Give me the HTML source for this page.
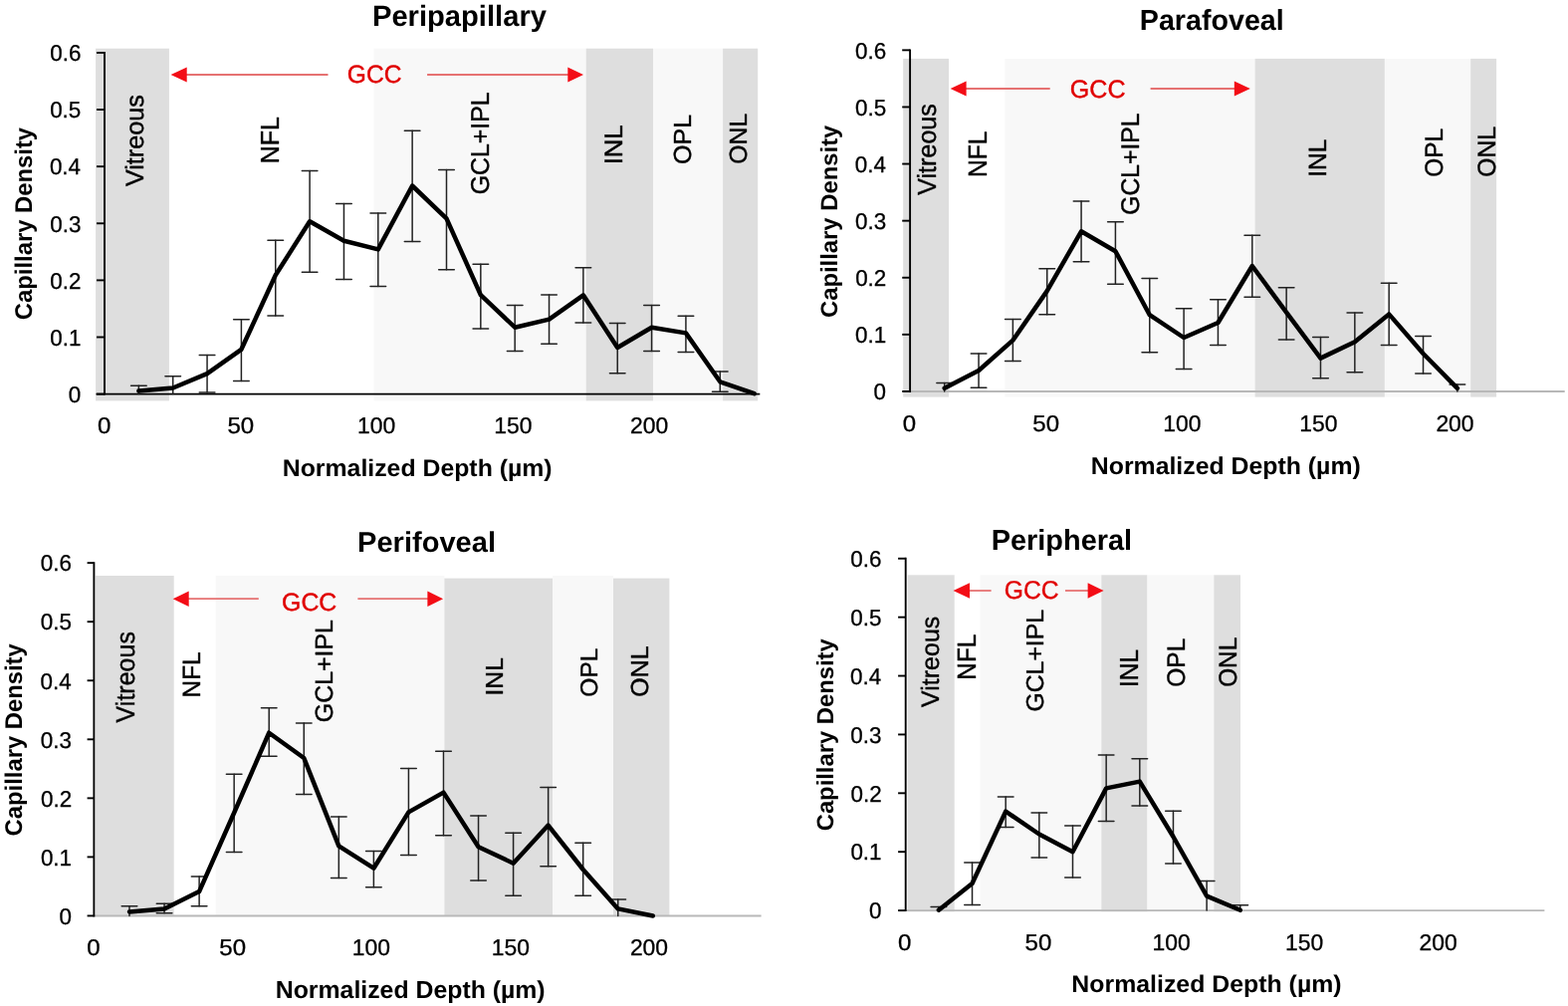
<!DOCTYPE html>
<html><head><meta charset="utf-8"><title>Capillary Density</title>
<style>html,body{margin:0;padding:0;background:#fff;width:1575px;height:1010px;overflow:hidden}
svg{display:block;font-family:"Liberation Sans",Arial,sans-serif;text-rendering:geometricPrecision}</style></head>
<body><svg width="1575" height="1010" viewBox="0 0 1575 1010">
<rect width="1575" height="1010" fill="#fff"/>
<rect x="96.10" y="48.70" width="73.80" height="353.70" fill="#dedede"/>
<rect x="375.40" y="48.70" width="213.30" height="353.70" fill="#f8f8f8"/>
<rect x="588.70" y="48.70" width="67.30" height="353.70" fill="#dedede"/>
<rect x="656.00" y="48.70" width="70.10" height="353.70" fill="#f8f8f8"/>
<rect x="726.10" y="48.70" width="35.10" height="353.70" fill="#dedede"/>
<line x1="96.50" y1="395.60" x2="763.30" y2="395.60" stroke="#000" stroke-width="1.9"/>
<line x1="105.00" y1="51.99" x2="105.00" y2="396.55" stroke="#000" stroke-width="1.9"/>
<line x1="97.00" y1="395.60" x2="105.00" y2="395.60" stroke="#000" stroke-width="1.9"/>
<line x1="97.00" y1="338.49" x2="105.00" y2="338.49" stroke="#000" stroke-width="1.9"/>
<line x1="97.00" y1="281.38" x2="105.00" y2="281.38" stroke="#000" stroke-width="1.9"/>
<line x1="97.00" y1="224.27" x2="105.00" y2="224.27" stroke="#000" stroke-width="1.9"/>
<line x1="97.00" y1="167.16" x2="105.00" y2="167.16" stroke="#000" stroke-width="1.9"/>
<line x1="97.00" y1="110.05" x2="105.00" y2="110.05" stroke="#000" stroke-width="1.9"/>
<line x1="97.00" y1="52.94" x2="105.00" y2="52.94" stroke="#000" stroke-width="1.9"/>
<text x="68.81" y="403.88" font-size="22.88" stroke="#000" stroke-width="0.3" textLength="12.47" lengthAdjust="spacingAndGlyphs">0</text>
<text x="50.32" y="346.77" font-size="22.88" stroke="#000" stroke-width="0.3" textLength="31.17" lengthAdjust="spacingAndGlyphs">0.1</text>
<text x="50.36" y="289.66" font-size="22.88" stroke="#000" stroke-width="0.3" textLength="31.17" lengthAdjust="spacingAndGlyphs">0.2</text>
<text x="50.21" y="232.55" font-size="22.88" stroke="#000" stroke-width="0.3" textLength="31.17" lengthAdjust="spacingAndGlyphs">0.3</text>
<text x="49.89" y="175.44" font-size="22.88" stroke="#000" stroke-width="0.3" textLength="31.17" lengthAdjust="spacingAndGlyphs">0.4</text>
<text x="50.17" y="118.33" font-size="22.88" stroke="#000" stroke-width="0.3" textLength="31.17" lengthAdjust="spacingAndGlyphs">0.5</text>
<text x="50.21" y="61.22" font-size="22.88" stroke="#000" stroke-width="0.3" textLength="31.17" lengthAdjust="spacingAndGlyphs">0.6</text>
<text x="97.92" y="435.18" font-size="22.88" stroke="#000" stroke-width="0.3" textLength="13.36" lengthAdjust="spacingAndGlyphs">0</text>
<text x="228.43" y="435.18" font-size="22.88" stroke="#000" stroke-width="0.3" textLength="26.72" lengthAdjust="spacingAndGlyphs">50</text>
<text x="359.09" y="435.18" font-size="22.88" stroke="#000" stroke-width="0.3" textLength="38.18" lengthAdjust="spacingAndGlyphs">100</text>
<text x="496.19" y="435.18" font-size="22.88" stroke="#000" stroke-width="0.3" textLength="38.18" lengthAdjust="spacingAndGlyphs">150</text>
<text x="632.98" y="435.18" font-size="22.88" stroke="#000" stroke-width="0.3" textLength="38.18" lengthAdjust="spacingAndGlyphs">200</text>
<text x="373.95" y="26.30" font-size="29.36" font-weight="bold" fill="#000" textLength="175.01" lengthAdjust="spacingAndGlyphs">Peripapillary</text>
<text x="283.74" y="477.70" font-size="23.98" font-weight="bold" fill="#000" textLength="270.90" lengthAdjust="spacingAndGlyphs">Normalized Depth (µm)</text>
<text transform="translate(32.00,321.18) rotate(-90)" font-size="24.13" font-weight="bold" fill="#000" textLength="193.31" lengthAdjust="spacingAndGlyphs">Capillary Density</text>
<text transform="translate(144.35,187.11) rotate(-90)" font-size="25.28" fill="#000" stroke="#000" stroke-width="0.4" textLength="91.92" lengthAdjust="spacingAndGlyphs">Vitreous</text>
<text transform="translate(279.70,164.25) rotate(-90)" font-size="26.02" fill="#000" stroke="#000" stroke-width="0.4" textLength="47.28" lengthAdjust="spacingAndGlyphs">NFL</text>
<text transform="translate(490.85,195.35) rotate(-90)" font-size="25.71" fill="#000" stroke="#000" stroke-width="0.4" textLength="103.08" lengthAdjust="spacingAndGlyphs">GCL+IPL</text>
<text transform="translate(624.50,165.37) rotate(-90)" font-size="25.44" fill="#000" stroke="#000" stroke-width="0.4" textLength="40.03" lengthAdjust="spacingAndGlyphs">INL</text>
<text transform="translate(694.36,164.89) rotate(-90)" font-size="24.72" fill="#000" stroke="#000" stroke-width="0.4" textLength="50.12" lengthAdjust="spacingAndGlyphs">OPL</text>
<text transform="translate(750.26,164.67) rotate(-90)" font-size="24.72" fill="#000" stroke="#000" stroke-width="0.4" textLength="50.79" lengthAdjust="spacingAndGlyphs">ONL</text>
<text x="348.86" y="82.95" font-size="25.14" fill="#e00000" textLength="54.57" lengthAdjust="spacingAndGlyphs" stroke="#e00000" stroke-width="0.4">GCC</text>
<line x1="186.70" y1="75.00" x2="329.50" y2="75.00" stroke="#e67272" stroke-width="1.8"/>
<polygon points="171.60,75.00 187.70,67.40 187.70,82.60" fill="#f30d16"/>
<line x1="429.10" y1="75.00" x2="571.30" y2="75.00" stroke="#e67272" stroke-width="1.8"/>
<polygon points="586.00,75.00 570.30,67.40 570.30,82.60" fill="#f30d16"/>
<line x1="139.36" y1="387.20" x2="139.36" y2="395.60" stroke="#222222" stroke-width="1.5" stroke-linecap="round"/>
<line x1="131.56" y1="387.20" x2="147.16" y2="387.20" stroke="#222222" stroke-width="1.5" stroke-linecap="round"/>
<line x1="173.71" y1="377.80" x2="173.71" y2="395.60" stroke="#222222" stroke-width="1.5" stroke-linecap="round"/>
<line x1="165.91" y1="377.80" x2="181.51" y2="377.80" stroke="#222222" stroke-width="1.5" stroke-linecap="round"/>
<line x1="208.06" y1="356.40" x2="208.06" y2="394.00" stroke="#222222" stroke-width="1.5" stroke-linecap="round"/>
<line x1="200.26" y1="356.40" x2="215.86" y2="356.40" stroke="#222222" stroke-width="1.5" stroke-linecap="round"/>
<line x1="200.26" y1="394.00" x2="215.86" y2="394.00" stroke="#222222" stroke-width="1.5" stroke-linecap="round"/>
<line x1="242.40" y1="320.80" x2="242.40" y2="382.40" stroke="#222222" stroke-width="1.5" stroke-linecap="round"/>
<line x1="234.60" y1="320.80" x2="250.20" y2="320.80" stroke="#222222" stroke-width="1.5" stroke-linecap="round"/>
<line x1="234.60" y1="382.40" x2="250.20" y2="382.40" stroke="#222222" stroke-width="1.5" stroke-linecap="round"/>
<line x1="276.75" y1="241.20" x2="276.75" y2="317.00" stroke="#222222" stroke-width="1.5" stroke-linecap="round"/>
<line x1="268.95" y1="241.20" x2="284.55" y2="241.20" stroke="#222222" stroke-width="1.5" stroke-linecap="round"/>
<line x1="268.95" y1="317.00" x2="284.55" y2="317.00" stroke="#222222" stroke-width="1.5" stroke-linecap="round"/>
<line x1="311.10" y1="171.50" x2="311.10" y2="273.30" stroke="#222222" stroke-width="1.5" stroke-linecap="round"/>
<line x1="303.30" y1="171.50" x2="318.90" y2="171.50" stroke="#222222" stroke-width="1.5" stroke-linecap="round"/>
<line x1="303.30" y1="273.30" x2="318.90" y2="273.30" stroke="#222222" stroke-width="1.5" stroke-linecap="round"/>
<line x1="345.45" y1="204.50" x2="345.45" y2="280.40" stroke="#222222" stroke-width="1.5" stroke-linecap="round"/>
<line x1="337.65" y1="204.50" x2="353.25" y2="204.50" stroke="#222222" stroke-width="1.5" stroke-linecap="round"/>
<line x1="337.65" y1="280.40" x2="353.25" y2="280.40" stroke="#222222" stroke-width="1.5" stroke-linecap="round"/>
<line x1="379.80" y1="214.00" x2="379.80" y2="287.40" stroke="#222222" stroke-width="1.5" stroke-linecap="round"/>
<line x1="372.00" y1="214.00" x2="387.60" y2="214.00" stroke="#222222" stroke-width="1.5" stroke-linecap="round"/>
<line x1="372.00" y1="287.40" x2="387.60" y2="287.40" stroke="#222222" stroke-width="1.5" stroke-linecap="round"/>
<line x1="414.14" y1="131.30" x2="414.14" y2="242.40" stroke="#222222" stroke-width="1.5" stroke-linecap="round"/>
<line x1="406.34" y1="131.30" x2="421.94" y2="131.30" stroke="#222222" stroke-width="1.5" stroke-linecap="round"/>
<line x1="406.34" y1="242.40" x2="421.94" y2="242.40" stroke="#222222" stroke-width="1.5" stroke-linecap="round"/>
<line x1="448.49" y1="170.60" x2="448.49" y2="270.80" stroke="#222222" stroke-width="1.5" stroke-linecap="round"/>
<line x1="440.69" y1="170.60" x2="456.29" y2="170.60" stroke="#222222" stroke-width="1.5" stroke-linecap="round"/>
<line x1="440.69" y1="270.80" x2="456.29" y2="270.80" stroke="#222222" stroke-width="1.5" stroke-linecap="round"/>
<line x1="482.84" y1="265.20" x2="482.84" y2="330.00" stroke="#222222" stroke-width="1.5" stroke-linecap="round"/>
<line x1="475.04" y1="265.20" x2="490.64" y2="265.20" stroke="#222222" stroke-width="1.5" stroke-linecap="round"/>
<line x1="475.04" y1="330.00" x2="490.64" y2="330.00" stroke="#222222" stroke-width="1.5" stroke-linecap="round"/>
<line x1="517.19" y1="306.60" x2="517.19" y2="352.60" stroke="#222222" stroke-width="1.5" stroke-linecap="round"/>
<line x1="509.39" y1="306.60" x2="524.99" y2="306.60" stroke="#222222" stroke-width="1.5" stroke-linecap="round"/>
<line x1="509.39" y1="352.60" x2="524.99" y2="352.60" stroke="#222222" stroke-width="1.5" stroke-linecap="round"/>
<line x1="551.54" y1="295.90" x2="551.54" y2="345.20" stroke="#222222" stroke-width="1.5" stroke-linecap="round"/>
<line x1="543.74" y1="295.90" x2="559.34" y2="295.90" stroke="#222222" stroke-width="1.5" stroke-linecap="round"/>
<line x1="543.74" y1="345.20" x2="559.34" y2="345.20" stroke="#222222" stroke-width="1.5" stroke-linecap="round"/>
<line x1="585.88" y1="268.70" x2="585.88" y2="323.90" stroke="#222222" stroke-width="1.5" stroke-linecap="round"/>
<line x1="578.08" y1="268.70" x2="593.68" y2="268.70" stroke="#222222" stroke-width="1.5" stroke-linecap="round"/>
<line x1="578.08" y1="323.90" x2="593.68" y2="323.90" stroke="#222222" stroke-width="1.5" stroke-linecap="round"/>
<line x1="620.23" y1="324.60" x2="620.23" y2="374.80" stroke="#222222" stroke-width="1.5" stroke-linecap="round"/>
<line x1="612.43" y1="324.60" x2="628.03" y2="324.60" stroke="#222222" stroke-width="1.5" stroke-linecap="round"/>
<line x1="612.43" y1="374.80" x2="628.03" y2="374.80" stroke="#222222" stroke-width="1.5" stroke-linecap="round"/>
<line x1="654.58" y1="306.60" x2="654.58" y2="352.60" stroke="#222222" stroke-width="1.5" stroke-linecap="round"/>
<line x1="646.78" y1="306.60" x2="662.38" y2="306.60" stroke="#222222" stroke-width="1.5" stroke-linecap="round"/>
<line x1="646.78" y1="352.60" x2="662.38" y2="352.60" stroke="#222222" stroke-width="1.5" stroke-linecap="round"/>
<line x1="688.93" y1="317.20" x2="688.93" y2="353.40" stroke="#222222" stroke-width="1.5" stroke-linecap="round"/>
<line x1="681.13" y1="317.20" x2="696.73" y2="317.20" stroke="#222222" stroke-width="1.5" stroke-linecap="round"/>
<line x1="681.13" y1="353.40" x2="696.73" y2="353.40" stroke="#222222" stroke-width="1.5" stroke-linecap="round"/>
<line x1="723.28" y1="372.90" x2="723.28" y2="393.20" stroke="#222222" stroke-width="1.5" stroke-linecap="round"/>
<line x1="715.48" y1="372.90" x2="731.08" y2="372.90" stroke="#222222" stroke-width="1.5" stroke-linecap="round"/>
<line x1="715.48" y1="393.20" x2="731.08" y2="393.20" stroke="#222222" stroke-width="1.5" stroke-linecap="round"/>
<polyline points="139.36,392.60 173.71,389.50 208.06,375.20 242.40,350.80 276.75,276.30 311.10,222.30 345.45,241.70 379.80,250.40 414.14,186.50 448.49,219.30 482.84,296.20 517.19,328.70 551.54,320.60 585.88,296.30 620.23,349.00 654.58,328.70 688.93,334.40 723.28,383.30 757.62,395.20" fill="none" stroke="#000" stroke-width="4.5" stroke-linejoin="round" stroke-linecap="round"/>
<rect x="907.20" y="58.90" width="45.90" height="339.70" fill="#dedede"/>
<rect x="1009.50" y="58.90" width="251.10" height="339.70" fill="#f8f8f8"/>
<rect x="1260.60" y="58.90" width="130.30" height="339.70" fill="#dedede"/>
<rect x="1390.90" y="58.90" width="86.30" height="339.70" fill="#f8f8f8"/>
<rect x="1477.20" y="58.90" width="25.90" height="339.70" fill="#dedede"/>
<line x1="914.10" y1="392.95" x2="1571.70" y2="392.95" stroke="#b8b8b8" stroke-width="1.9"/>
<line x1="914.10" y1="49.40" x2="914.10" y2="393.90" stroke="#000" stroke-width="1.9"/>
<line x1="906.20" y1="392.95" x2="914.10" y2="392.95" stroke="#000" stroke-width="1.9"/>
<line x1="906.20" y1="335.85" x2="914.10" y2="335.85" stroke="#000" stroke-width="1.9"/>
<line x1="906.20" y1="278.75" x2="914.10" y2="278.75" stroke="#000" stroke-width="1.9"/>
<line x1="906.20" y1="221.65" x2="914.10" y2="221.65" stroke="#000" stroke-width="1.9"/>
<line x1="906.20" y1="164.55" x2="914.10" y2="164.55" stroke="#000" stroke-width="1.9"/>
<line x1="906.20" y1="107.45" x2="914.10" y2="107.45" stroke="#000" stroke-width="1.9"/>
<line x1="906.20" y1="50.35" x2="914.10" y2="50.35" stroke="#000" stroke-width="1.9"/>
<text x="877.61" y="401.23" font-size="22.88" stroke="#000" stroke-width="0.3" textLength="12.47" lengthAdjust="spacingAndGlyphs">0</text>
<text x="859.12" y="344.13" font-size="22.88" stroke="#000" stroke-width="0.3" textLength="31.17" lengthAdjust="spacingAndGlyphs">0.1</text>
<text x="859.16" y="287.03" font-size="22.88" stroke="#000" stroke-width="0.3" textLength="31.17" lengthAdjust="spacingAndGlyphs">0.2</text>
<text x="859.01" y="229.93" font-size="22.88" stroke="#000" stroke-width="0.3" textLength="31.17" lengthAdjust="spacingAndGlyphs">0.3</text>
<text x="858.69" y="172.83" font-size="22.88" stroke="#000" stroke-width="0.3" textLength="31.17" lengthAdjust="spacingAndGlyphs">0.4</text>
<text x="858.97" y="115.73" font-size="22.88" stroke="#000" stroke-width="0.3" textLength="31.17" lengthAdjust="spacingAndGlyphs">0.5</text>
<text x="859.01" y="58.63" font-size="22.88" stroke="#000" stroke-width="0.3" textLength="31.17" lengthAdjust="spacingAndGlyphs">0.6</text>
<text x="906.82" y="432.78" font-size="22.88" stroke="#000" stroke-width="0.3" textLength="13.36" lengthAdjust="spacingAndGlyphs">0</text>
<text x="1037.33" y="432.78" font-size="22.88" stroke="#000" stroke-width="0.3" textLength="26.72" lengthAdjust="spacingAndGlyphs">50</text>
<text x="1168.29" y="432.78" font-size="22.88" stroke="#000" stroke-width="0.3" textLength="38.18" lengthAdjust="spacingAndGlyphs">100</text>
<text x="1305.29" y="432.78" font-size="22.88" stroke="#000" stroke-width="0.3" textLength="38.18" lengthAdjust="spacingAndGlyphs">150</text>
<text x="1442.38" y="432.78" font-size="22.88" stroke="#000" stroke-width="0.3" textLength="38.18" lengthAdjust="spacingAndGlyphs">200</text>
<text x="1144.78" y="29.80" font-size="28.92" font-weight="bold" fill="#000" textLength="144.95" lengthAdjust="spacingAndGlyphs">Parafoveal</text>
<text x="1095.84" y="475.50" font-size="24.42" font-weight="bold" fill="#000" textLength="270.90" lengthAdjust="spacingAndGlyphs">Normalized Depth (µm)</text>
<text transform="translate(841.30,319.08) rotate(-90)" font-size="23.69" font-weight="bold" fill="#000" textLength="193.41" lengthAdjust="spacingAndGlyphs">Capillary Density</text>
<text transform="translate(940.24,195.71) rotate(-90)" font-size="26.13" fill="#000" stroke="#000" stroke-width="0.4" textLength="91.51" lengthAdjust="spacingAndGlyphs">Vitreous</text>
<text transform="translate(990.90,177.91) rotate(-90)" font-size="26.31" fill="#000" stroke="#000" stroke-width="0.4" textLength="46.22" lengthAdjust="spacingAndGlyphs">NFL</text>
<text transform="translate(1144.35,215.84) rotate(-90)" font-size="25.56" fill="#000" stroke="#000" stroke-width="0.4" textLength="102.36" lengthAdjust="spacingAndGlyphs">GCL+IPL</text>
<text transform="translate(1332.30,177.87) rotate(-90)" font-size="25.00" fill="#000" stroke="#000" stroke-width="0.4" textLength="38.29" lengthAdjust="spacingAndGlyphs">INL</text>
<text transform="translate(1449.35,177.86) rotate(-90)" font-size="25.28" fill="#000" stroke="#000" stroke-width="0.4" textLength="48.97" lengthAdjust="spacingAndGlyphs">OPL</text>
<text transform="translate(1502.05,177.87) rotate(-90)" font-size="25.28" fill="#000" stroke="#000" stroke-width="0.4" textLength="51.00" lengthAdjust="spacingAndGlyphs">ONL</text>
<text x="1074.84" y="98.25" font-size="25.28" fill="#e00000" textLength="55.72" lengthAdjust="spacingAndGlyphs" stroke="#e00000" stroke-width="0.4">GCC</text>
<line x1="969.60" y1="89.00" x2="1054.70" y2="89.00" stroke="#e67272" stroke-width="1.8"/>
<polygon points="954.60,89.00 970.60,81.40 970.60,96.60" fill="#f30d16"/>
<line x1="1155.60" y1="89.00" x2="1240.80" y2="89.00" stroke="#e67272" stroke-width="1.8"/>
<polygon points="1255.80,89.00 1239.80,81.40 1239.80,96.60" fill="#f30d16"/>
<line x1="948.70" y1="384.60" x2="948.70" y2="392.95" stroke="#222222" stroke-width="1.5" stroke-linecap="round"/>
<line x1="940.90" y1="384.60" x2="956.50" y2="384.60" stroke="#222222" stroke-width="1.5" stroke-linecap="round"/>
<line x1="983.05" y1="355.00" x2="983.05" y2="389.30" stroke="#222222" stroke-width="1.5" stroke-linecap="round"/>
<line x1="975.25" y1="355.00" x2="990.85" y2="355.00" stroke="#222222" stroke-width="1.5" stroke-linecap="round"/>
<line x1="975.25" y1="389.30" x2="990.85" y2="389.30" stroke="#222222" stroke-width="1.5" stroke-linecap="round"/>
<line x1="1017.39" y1="320.50" x2="1017.39" y2="362.40" stroke="#222222" stroke-width="1.5" stroke-linecap="round"/>
<line x1="1009.59" y1="320.50" x2="1025.19" y2="320.50" stroke="#222222" stroke-width="1.5" stroke-linecap="round"/>
<line x1="1009.59" y1="362.40" x2="1025.19" y2="362.40" stroke="#222222" stroke-width="1.5" stroke-linecap="round"/>
<line x1="1051.74" y1="269.70" x2="1051.74" y2="315.70" stroke="#222222" stroke-width="1.5" stroke-linecap="round"/>
<line x1="1043.94" y1="269.70" x2="1059.54" y2="269.70" stroke="#222222" stroke-width="1.5" stroke-linecap="round"/>
<line x1="1043.94" y1="315.70" x2="1059.54" y2="315.70" stroke="#222222" stroke-width="1.5" stroke-linecap="round"/>
<line x1="1086.08" y1="201.90" x2="1086.08" y2="262.80" stroke="#222222" stroke-width="1.5" stroke-linecap="round"/>
<line x1="1078.28" y1="201.90" x2="1093.88" y2="201.90" stroke="#222222" stroke-width="1.5" stroke-linecap="round"/>
<line x1="1078.28" y1="262.80" x2="1093.88" y2="262.80" stroke="#222222" stroke-width="1.5" stroke-linecap="round"/>
<line x1="1120.42" y1="222.80" x2="1120.42" y2="285.20" stroke="#222222" stroke-width="1.5" stroke-linecap="round"/>
<line x1="1112.62" y1="222.80" x2="1128.22" y2="222.80" stroke="#222222" stroke-width="1.5" stroke-linecap="round"/>
<line x1="1112.62" y1="285.20" x2="1128.22" y2="285.20" stroke="#222222" stroke-width="1.5" stroke-linecap="round"/>
<line x1="1154.77" y1="279.40" x2="1154.77" y2="353.80" stroke="#222222" stroke-width="1.5" stroke-linecap="round"/>
<line x1="1146.97" y1="279.40" x2="1162.57" y2="279.40" stroke="#222222" stroke-width="1.5" stroke-linecap="round"/>
<line x1="1146.97" y1="353.80" x2="1162.57" y2="353.80" stroke="#222222" stroke-width="1.5" stroke-linecap="round"/>
<line x1="1189.12" y1="309.80" x2="1189.12" y2="370.60" stroke="#222222" stroke-width="1.5" stroke-linecap="round"/>
<line x1="1181.32" y1="309.80" x2="1196.91" y2="309.80" stroke="#222222" stroke-width="1.5" stroke-linecap="round"/>
<line x1="1181.32" y1="370.60" x2="1196.91" y2="370.60" stroke="#222222" stroke-width="1.5" stroke-linecap="round"/>
<line x1="1223.46" y1="300.80" x2="1223.46" y2="346.60" stroke="#222222" stroke-width="1.5" stroke-linecap="round"/>
<line x1="1215.66" y1="300.80" x2="1231.26" y2="300.80" stroke="#222222" stroke-width="1.5" stroke-linecap="round"/>
<line x1="1215.66" y1="346.60" x2="1231.26" y2="346.60" stroke="#222222" stroke-width="1.5" stroke-linecap="round"/>
<line x1="1257.81" y1="236.30" x2="1257.81" y2="298.30" stroke="#222222" stroke-width="1.5" stroke-linecap="round"/>
<line x1="1250.01" y1="236.30" x2="1265.61" y2="236.30" stroke="#222222" stroke-width="1.5" stroke-linecap="round"/>
<line x1="1250.01" y1="298.30" x2="1265.61" y2="298.30" stroke="#222222" stroke-width="1.5" stroke-linecap="round"/>
<line x1="1292.15" y1="288.80" x2="1292.15" y2="340.90" stroke="#222222" stroke-width="1.5" stroke-linecap="round"/>
<line x1="1284.35" y1="288.80" x2="1299.95" y2="288.80" stroke="#222222" stroke-width="1.5" stroke-linecap="round"/>
<line x1="1284.35" y1="340.90" x2="1299.95" y2="340.90" stroke="#222222" stroke-width="1.5" stroke-linecap="round"/>
<line x1="1326.49" y1="338.50" x2="1326.49" y2="379.80" stroke="#222222" stroke-width="1.5" stroke-linecap="round"/>
<line x1="1318.69" y1="338.50" x2="1334.29" y2="338.50" stroke="#222222" stroke-width="1.5" stroke-linecap="round"/>
<line x1="1318.69" y1="379.80" x2="1334.29" y2="379.80" stroke="#222222" stroke-width="1.5" stroke-linecap="round"/>
<line x1="1360.84" y1="313.90" x2="1360.84" y2="373.80" stroke="#222222" stroke-width="1.5" stroke-linecap="round"/>
<line x1="1353.04" y1="313.90" x2="1368.64" y2="313.90" stroke="#222222" stroke-width="1.5" stroke-linecap="round"/>
<line x1="1353.04" y1="373.80" x2="1368.64" y2="373.80" stroke="#222222" stroke-width="1.5" stroke-linecap="round"/>
<line x1="1395.18" y1="284.30" x2="1395.18" y2="346.60" stroke="#222222" stroke-width="1.5" stroke-linecap="round"/>
<line x1="1387.38" y1="284.30" x2="1402.98" y2="284.30" stroke="#222222" stroke-width="1.5" stroke-linecap="round"/>
<line x1="1387.38" y1="346.60" x2="1402.98" y2="346.60" stroke="#222222" stroke-width="1.5" stroke-linecap="round"/>
<line x1="1429.53" y1="337.40" x2="1429.53" y2="375.00" stroke="#222222" stroke-width="1.5" stroke-linecap="round"/>
<line x1="1421.73" y1="337.40" x2="1437.33" y2="337.40" stroke="#222222" stroke-width="1.5" stroke-linecap="round"/>
<line x1="1421.73" y1="375.00" x2="1437.33" y2="375.00" stroke="#222222" stroke-width="1.5" stroke-linecap="round"/>
<line x1="1463.88" y1="386.10" x2="1463.88" y2="392.95" stroke="#222222" stroke-width="1.5" stroke-linecap="round"/>
<line x1="1456.08" y1="386.10" x2="1471.67" y2="386.10" stroke="#222222" stroke-width="1.5" stroke-linecap="round"/>
<polyline points="948.70,389.80 983.05,372.00 1017.39,341.60 1051.74,292.10 1086.08,232.30 1120.42,252.20 1154.77,316.20 1189.12,339.00 1223.46,324.00 1257.81,267.00 1292.15,313.70 1326.49,359.60 1360.84,343.20 1395.18,315.40 1429.53,355.00 1463.88,389.80" fill="none" stroke="#000" stroke-width="4.5" stroke-linejoin="round" stroke-linecap="round"/>
<rect x="96.00" y="578.00" width="78.70" height="342.00" fill="#dedede"/>
<rect x="216.70" y="578.00" width="229.70" height="342.00" fill="#f8f8f8"/>
<rect x="446.40" y="580.60" width="108.70" height="339.40" fill="#dedede"/>
<rect x="555.10" y="578.00" width="60.90" height="342.00" fill="#f8f8f8"/>
<rect x="616.00" y="580.60" width="56.40" height="339.40" fill="#dedede"/>
<line x1="94.40" y1="919.45" x2="764.60" y2="919.45" stroke="#b8b8b8" stroke-width="1.9"/>
<line x1="94.40" y1="564.20" x2="94.40" y2="920.40" stroke="#000" stroke-width="1.9"/>
<line x1="87.60" y1="919.45" x2="94.40" y2="919.45" stroke="#000" stroke-width="1.9"/>
<line x1="87.60" y1="860.40" x2="94.40" y2="860.40" stroke="#000" stroke-width="1.9"/>
<line x1="87.60" y1="801.35" x2="94.40" y2="801.35" stroke="#000" stroke-width="1.9"/>
<line x1="87.60" y1="742.30" x2="94.40" y2="742.30" stroke="#000" stroke-width="1.9"/>
<line x1="87.60" y1="683.25" x2="94.40" y2="683.25" stroke="#000" stroke-width="1.9"/>
<line x1="87.60" y1="624.20" x2="94.40" y2="624.20" stroke="#000" stroke-width="1.9"/>
<line x1="87.60" y1="565.15" x2="94.40" y2="565.15" stroke="#000" stroke-width="1.9"/>
<text x="59.41" y="927.73" font-size="22.88" stroke="#000" stroke-width="0.3" textLength="12.47" lengthAdjust="spacingAndGlyphs">0</text>
<text x="40.92" y="868.68" font-size="22.88" stroke="#000" stroke-width="0.3" textLength="31.17" lengthAdjust="spacingAndGlyphs">0.1</text>
<text x="40.96" y="809.63" font-size="22.88" stroke="#000" stroke-width="0.3" textLength="31.17" lengthAdjust="spacingAndGlyphs">0.2</text>
<text x="40.81" y="750.58" font-size="22.88" stroke="#000" stroke-width="0.3" textLength="31.17" lengthAdjust="spacingAndGlyphs">0.3</text>
<text x="40.49" y="691.53" font-size="22.88" stroke="#000" stroke-width="0.3" textLength="31.17" lengthAdjust="spacingAndGlyphs">0.4</text>
<text x="40.77" y="632.48" font-size="22.88" stroke="#000" stroke-width="0.3" textLength="31.17" lengthAdjust="spacingAndGlyphs">0.5</text>
<text x="40.81" y="573.43" font-size="22.88" stroke="#000" stroke-width="0.3" textLength="31.17" lengthAdjust="spacingAndGlyphs">0.6</text>
<text x="87.32" y="959.18" font-size="22.88" stroke="#000" stroke-width="0.3" textLength="13.36" lengthAdjust="spacingAndGlyphs">0</text>
<text x="220.33" y="959.18" font-size="22.88" stroke="#000" stroke-width="0.3" textLength="26.72" lengthAdjust="spacingAndGlyphs">50</text>
<text x="353.79" y="959.18" font-size="22.88" stroke="#000" stroke-width="0.3" textLength="38.18" lengthAdjust="spacingAndGlyphs">100</text>
<text x="493.69" y="959.18" font-size="22.88" stroke="#000" stroke-width="0.3" textLength="38.18" lengthAdjust="spacingAndGlyphs">150</text>
<text x="632.88" y="959.18" font-size="22.88" stroke="#000" stroke-width="0.3" textLength="38.18" lengthAdjust="spacingAndGlyphs">200</text>
<text x="359.05" y="554.30" font-size="28.63" font-weight="bold" fill="#000" textLength="139.00" lengthAdjust="spacingAndGlyphs">Perifoveal</text>
<text x="276.74" y="1001.60" font-size="24.56" font-weight="bold" fill="#000" textLength="270.90" lengthAdjust="spacingAndGlyphs">Normalized Depth (µm)</text>
<text transform="translate(21.90,839.38) rotate(-90)" font-size="24.13" font-weight="bold" fill="#000" textLength="193.10" lengthAdjust="spacingAndGlyphs">Capillary Density</text>
<text transform="translate(134.64,725.41) rotate(-90)" font-size="26.27" fill="#000" stroke="#000" stroke-width="0.4" textLength="91.31" lengthAdjust="spacingAndGlyphs">Vitreous</text>
<text transform="translate(201.10,700.40) rotate(-90)" font-size="25.15" fill="#000" stroke="#000" stroke-width="0.4" textLength="46.01" lengthAdjust="spacingAndGlyphs">NFL</text>
<text transform="translate(334.36,725.15) rotate(-90)" font-size="24.86" fill="#000" stroke="#000" stroke-width="0.4" textLength="103.08" lengthAdjust="spacingAndGlyphs">GCL+IPL</text>
<text transform="translate(505.30,698.47) rotate(-90)" font-size="24.56" fill="#000" stroke="#000" stroke-width="0.4" textLength="38.29" lengthAdjust="spacingAndGlyphs">INL</text>
<text transform="translate(599.96,699.66) rotate(-90)" font-size="24.29" fill="#000" stroke="#000" stroke-width="0.4" textLength="49.18" lengthAdjust="spacingAndGlyphs">OPL</text>
<text transform="translate(650.76,699.68) rotate(-90)" font-size="24.72" fill="#000" stroke="#000" stroke-width="0.4" textLength="51.21" lengthAdjust="spacingAndGlyphs">ONL</text>
<text x="283.05" y="612.85" font-size="25.14" fill="#e00000" textLength="55.30" lengthAdjust="spacingAndGlyphs" stroke="#e00000" stroke-width="0.4">GCC</text>
<line x1="188.70" y1="601.20" x2="259.80" y2="601.20" stroke="#e67272" stroke-width="1.8"/>
<polygon points="173.70,601.20 189.70,593.50 189.70,608.90" fill="#f30d16"/>
<line x1="359.40" y1="601.20" x2="430.40" y2="601.20" stroke="#e67272" stroke-width="1.8"/>
<polygon points="445.10,601.20 429.40,593.50 429.40,608.90" fill="#f30d16"/>
<line x1="130.00" y1="909.80" x2="130.00" y2="919.45" stroke="#222222" stroke-width="1.5" stroke-linecap="round"/>
<line x1="122.20" y1="909.80" x2="137.80" y2="909.80" stroke="#222222" stroke-width="1.5" stroke-linecap="round"/>
<line x1="165.05" y1="907.30" x2="165.05" y2="916.70" stroke="#222222" stroke-width="1.5" stroke-linecap="round"/>
<line x1="157.25" y1="907.30" x2="172.85" y2="907.30" stroke="#222222" stroke-width="1.5" stroke-linecap="round"/>
<line x1="157.25" y1="916.70" x2="172.85" y2="916.70" stroke="#222222" stroke-width="1.5" stroke-linecap="round"/>
<line x1="200.11" y1="879.90" x2="200.11" y2="909.80" stroke="#222222" stroke-width="1.5" stroke-linecap="round"/>
<line x1="192.31" y1="879.90" x2="207.91" y2="879.90" stroke="#222222" stroke-width="1.5" stroke-linecap="round"/>
<line x1="192.31" y1="909.80" x2="207.91" y2="909.80" stroke="#222222" stroke-width="1.5" stroke-linecap="round"/>
<line x1="235.16" y1="777.30" x2="235.16" y2="855.50" stroke="#222222" stroke-width="1.5" stroke-linecap="round"/>
<line x1="227.36" y1="777.30" x2="242.96" y2="777.30" stroke="#222222" stroke-width="1.5" stroke-linecap="round"/>
<line x1="227.36" y1="855.50" x2="242.96" y2="855.50" stroke="#222222" stroke-width="1.5" stroke-linecap="round"/>
<line x1="270.22" y1="710.80" x2="270.22" y2="759.30" stroke="#222222" stroke-width="1.5" stroke-linecap="round"/>
<line x1="262.42" y1="710.80" x2="278.02" y2="710.80" stroke="#222222" stroke-width="1.5" stroke-linecap="round"/>
<line x1="262.42" y1="759.30" x2="278.02" y2="759.30" stroke="#222222" stroke-width="1.5" stroke-linecap="round"/>
<line x1="305.27" y1="726.00" x2="305.27" y2="797.50" stroke="#222222" stroke-width="1.5" stroke-linecap="round"/>
<line x1="297.47" y1="726.00" x2="313.07" y2="726.00" stroke="#222222" stroke-width="1.5" stroke-linecap="round"/>
<line x1="297.47" y1="797.50" x2="313.07" y2="797.50" stroke="#222222" stroke-width="1.5" stroke-linecap="round"/>
<line x1="340.32" y1="819.90" x2="340.32" y2="881.40" stroke="#222222" stroke-width="1.5" stroke-linecap="round"/>
<line x1="332.52" y1="819.90" x2="348.12" y2="819.90" stroke="#222222" stroke-width="1.5" stroke-linecap="round"/>
<line x1="332.52" y1="881.40" x2="348.12" y2="881.40" stroke="#222222" stroke-width="1.5" stroke-linecap="round"/>
<line x1="375.38" y1="854.50" x2="375.38" y2="890.80" stroke="#222222" stroke-width="1.5" stroke-linecap="round"/>
<line x1="367.58" y1="854.50" x2="383.18" y2="854.50" stroke="#222222" stroke-width="1.5" stroke-linecap="round"/>
<line x1="367.58" y1="890.80" x2="383.18" y2="890.80" stroke="#222222" stroke-width="1.5" stroke-linecap="round"/>
<line x1="410.43" y1="771.40" x2="410.43" y2="858.50" stroke="#222222" stroke-width="1.5" stroke-linecap="round"/>
<line x1="402.63" y1="771.40" x2="418.23" y2="771.40" stroke="#222222" stroke-width="1.5" stroke-linecap="round"/>
<line x1="402.63" y1="858.50" x2="418.23" y2="858.50" stroke="#222222" stroke-width="1.5" stroke-linecap="round"/>
<line x1="445.49" y1="754.20" x2="445.49" y2="838.70" stroke="#222222" stroke-width="1.5" stroke-linecap="round"/>
<line x1="437.69" y1="754.20" x2="453.29" y2="754.20" stroke="#222222" stroke-width="1.5" stroke-linecap="round"/>
<line x1="437.69" y1="838.70" x2="453.29" y2="838.70" stroke="#222222" stroke-width="1.5" stroke-linecap="round"/>
<line x1="480.54" y1="818.90" x2="480.54" y2="883.90" stroke="#222222" stroke-width="1.5" stroke-linecap="round"/>
<line x1="472.74" y1="818.90" x2="488.34" y2="818.90" stroke="#222222" stroke-width="1.5" stroke-linecap="round"/>
<line x1="472.74" y1="883.90" x2="488.34" y2="883.90" stroke="#222222" stroke-width="1.5" stroke-linecap="round"/>
<line x1="515.59" y1="836.20" x2="515.59" y2="899.20" stroke="#222222" stroke-width="1.5" stroke-linecap="round"/>
<line x1="507.79" y1="836.20" x2="523.39" y2="836.20" stroke="#222222" stroke-width="1.5" stroke-linecap="round"/>
<line x1="507.79" y1="899.20" x2="523.39" y2="899.20" stroke="#222222" stroke-width="1.5" stroke-linecap="round"/>
<line x1="550.65" y1="790.50" x2="550.65" y2="869.70" stroke="#222222" stroke-width="1.5" stroke-linecap="round"/>
<line x1="542.85" y1="790.50" x2="558.45" y2="790.50" stroke="#222222" stroke-width="1.5" stroke-linecap="round"/>
<line x1="542.85" y1="869.70" x2="558.45" y2="869.70" stroke="#222222" stroke-width="1.5" stroke-linecap="round"/>
<line x1="585.70" y1="846.30" x2="585.70" y2="899.20" stroke="#222222" stroke-width="1.5" stroke-linecap="round"/>
<line x1="577.90" y1="846.30" x2="593.50" y2="846.30" stroke="#222222" stroke-width="1.5" stroke-linecap="round"/>
<line x1="577.90" y1="899.20" x2="593.50" y2="899.20" stroke="#222222" stroke-width="1.5" stroke-linecap="round"/>
<line x1="620.76" y1="903.00" x2="620.76" y2="919.45" stroke="#222222" stroke-width="1.5" stroke-linecap="round"/>
<line x1="612.96" y1="903.00" x2="628.56" y2="903.00" stroke="#222222" stroke-width="1.5" stroke-linecap="round"/>
<polyline points="130.00,915.40 165.05,912.40 200.11,895.10 235.16,816.00 270.22,735.70 305.27,761.00 340.32,849.40 375.38,871.70 410.43,815.40 445.49,795.60 480.54,850.20 515.59,866.70 550.65,828.60 585.70,873.00 620.76,912.40 655.81,919.50" fill="none" stroke="#000" stroke-width="4.5" stroke-linejoin="round" stroke-linecap="round"/>
<rect x="911.70" y="577.30" width="47.00" height="338.00" fill="#dedede"/>
<rect x="984.60" y="577.30" width="121.70" height="338.00" fill="#f8f8f8"/>
<rect x="1106.30" y="577.30" width="46.20" height="338.00" fill="#dedede"/>
<rect x="1152.50" y="577.30" width="66.80" height="338.00" fill="#f8f8f8"/>
<rect x="1219.30" y="577.30" width="26.70" height="338.00" fill="#dedede"/>
<line x1="909.70" y1="914.10" x2="1551.40" y2="914.10" stroke="#b8b8b8" stroke-width="1.9"/>
<line x1="909.70" y1="559.81" x2="909.70" y2="915.05" stroke="#000" stroke-width="1.9"/>
<line x1="902.10" y1="914.10" x2="909.70" y2="914.10" stroke="#000" stroke-width="1.9"/>
<line x1="902.10" y1="855.21" x2="909.70" y2="855.21" stroke="#000" stroke-width="1.9"/>
<line x1="902.10" y1="796.32" x2="909.70" y2="796.32" stroke="#000" stroke-width="1.9"/>
<line x1="902.10" y1="737.43" x2="909.70" y2="737.43" stroke="#000" stroke-width="1.9"/>
<line x1="902.10" y1="678.54" x2="909.70" y2="678.54" stroke="#000" stroke-width="1.9"/>
<line x1="902.10" y1="619.65" x2="909.70" y2="619.65" stroke="#000" stroke-width="1.9"/>
<line x1="902.10" y1="560.76" x2="909.70" y2="560.76" stroke="#000" stroke-width="1.9"/>
<text x="872.91" y="922.38" font-size="22.88" stroke="#000" stroke-width="0.3" textLength="12.47" lengthAdjust="spacingAndGlyphs">0</text>
<text x="854.42" y="863.49" font-size="22.88" stroke="#000" stroke-width="0.3" textLength="31.17" lengthAdjust="spacingAndGlyphs">0.1</text>
<text x="854.46" y="804.60" font-size="22.88" stroke="#000" stroke-width="0.3" textLength="31.17" lengthAdjust="spacingAndGlyphs">0.2</text>
<text x="854.31" y="745.71" font-size="22.88" stroke="#000" stroke-width="0.3" textLength="31.17" lengthAdjust="spacingAndGlyphs">0.3</text>
<text x="853.99" y="686.82" font-size="22.88" stroke="#000" stroke-width="0.3" textLength="31.17" lengthAdjust="spacingAndGlyphs">0.4</text>
<text x="854.27" y="627.93" font-size="22.88" stroke="#000" stroke-width="0.3" textLength="31.17" lengthAdjust="spacingAndGlyphs">0.5</text>
<text x="854.31" y="569.04" font-size="22.88" stroke="#000" stroke-width="0.3" textLength="31.17" lengthAdjust="spacingAndGlyphs">0.6</text>
<text x="902.02" y="954.18" font-size="22.88" stroke="#000" stroke-width="0.3" textLength="13.36" lengthAdjust="spacingAndGlyphs">0</text>
<text x="1029.63" y="954.18" font-size="22.88" stroke="#000" stroke-width="0.3" textLength="26.72" lengthAdjust="spacingAndGlyphs">50</text>
<text x="1157.59" y="954.18" font-size="22.88" stroke="#000" stroke-width="0.3" textLength="38.18" lengthAdjust="spacingAndGlyphs">100</text>
<text x="1290.99" y="954.18" font-size="22.88" stroke="#000" stroke-width="0.3" textLength="38.18" lengthAdjust="spacingAndGlyphs">150</text>
<text x="1425.48" y="954.18" font-size="22.88" stroke="#000" stroke-width="0.3" textLength="38.18" lengthAdjust="spacingAndGlyphs">200</text>
<text x="995.66" y="552.30" font-size="28.92" font-weight="bold" fill="#000" textLength="141.48" lengthAdjust="spacingAndGlyphs">Peripheral</text>
<text x="1076.34" y="995.80" font-size="24.13" font-weight="bold" fill="#000" textLength="271.30" lengthAdjust="spacingAndGlyphs">Normalized Depth (µm)</text>
<text transform="translate(836.60,834.28) rotate(-90)" font-size="23.55" font-weight="bold" fill="#000" textLength="193.00" lengthAdjust="spacingAndGlyphs">Capillary Density</text>
<text transform="translate(942.86,710.01) rotate(-90)" font-size="25.00" fill="#000" stroke="#000" stroke-width="0.4" textLength="91.31" lengthAdjust="spacingAndGlyphs">Vitreous</text>
<text transform="translate(980.40,682.70) rotate(-90)" font-size="26.31" fill="#000" stroke="#000" stroke-width="0.4" textLength="46.01" lengthAdjust="spacingAndGlyphs">NFL</text>
<text transform="translate(1047.56,714.55) rotate(-90)" font-size="24.58" fill="#000" stroke="#000" stroke-width="0.4" textLength="102.57" lengthAdjust="spacingAndGlyphs">GCL+IPL</text>
<text transform="translate(1142.60,690.07) rotate(-90)" font-size="26.02" fill="#000" stroke="#000" stroke-width="0.4" textLength="38.29" lengthAdjust="spacingAndGlyphs">INL</text>
<text transform="translate(1190.35,689.86) rotate(-90)" font-size="25.28" fill="#000" stroke="#000" stroke-width="0.4" textLength="49.18" lengthAdjust="spacingAndGlyphs">OPL</text>
<text transform="translate(1241.65,689.85) rotate(-90)" font-size="25.28" fill="#000" stroke="#000" stroke-width="0.4" textLength="50.06" lengthAdjust="spacingAndGlyphs">ONL</text>
<text x="1008.76" y="601.25" font-size="25.56" fill="#e00000" textLength="54.78" lengthAdjust="spacingAndGlyphs" stroke="#e00000" stroke-width="0.4">GCC</text>
<line x1="973.00" y1="593.00" x2="995.60" y2="593.00" stroke="#e67272" stroke-width="1.8"/>
<polygon points="957.50,593.00 974.00,585.20 974.00,600.80" fill="#f30d16"/>
<line x1="1070.00" y1="593.00" x2="1093.60" y2="593.00" stroke="#e67272" stroke-width="1.8"/>
<polygon points="1108.60,593.00 1092.60,585.20 1092.60,600.80" fill="#f30d16"/>
<line x1="942.87" y1="910.60" x2="942.87" y2="914.10" stroke="#222222" stroke-width="1.5" stroke-linecap="round"/>
<line x1="935.07" y1="910.60" x2="950.67" y2="910.60" stroke="#222222" stroke-width="1.5" stroke-linecap="round"/>
<line x1="976.53" y1="865.90" x2="976.53" y2="908.60" stroke="#222222" stroke-width="1.5" stroke-linecap="round"/>
<line x1="968.73" y1="865.90" x2="984.33" y2="865.90" stroke="#222222" stroke-width="1.5" stroke-linecap="round"/>
<line x1="968.73" y1="908.60" x2="984.33" y2="908.60" stroke="#222222" stroke-width="1.5" stroke-linecap="round"/>
<line x1="1010.19" y1="799.90" x2="1010.19" y2="830.60" stroke="#222222" stroke-width="1.5" stroke-linecap="round"/>
<line x1="1002.39" y1="799.90" x2="1017.99" y2="799.90" stroke="#222222" stroke-width="1.5" stroke-linecap="round"/>
<line x1="1002.39" y1="830.60" x2="1017.99" y2="830.60" stroke="#222222" stroke-width="1.5" stroke-linecap="round"/>
<line x1="1043.84" y1="815.90" x2="1043.84" y2="861.10" stroke="#222222" stroke-width="1.5" stroke-linecap="round"/>
<line x1="1036.04" y1="815.90" x2="1051.64" y2="815.90" stroke="#222222" stroke-width="1.5" stroke-linecap="round"/>
<line x1="1036.04" y1="861.10" x2="1051.64" y2="861.10" stroke="#222222" stroke-width="1.5" stroke-linecap="round"/>
<line x1="1077.50" y1="829.10" x2="1077.50" y2="881.10" stroke="#222222" stroke-width="1.5" stroke-linecap="round"/>
<line x1="1069.70" y1="829.10" x2="1085.30" y2="829.10" stroke="#222222" stroke-width="1.5" stroke-linecap="round"/>
<line x1="1069.70" y1="881.10" x2="1085.30" y2="881.10" stroke="#222222" stroke-width="1.5" stroke-linecap="round"/>
<line x1="1111.16" y1="758.10" x2="1111.16" y2="824.50" stroke="#222222" stroke-width="1.5" stroke-linecap="round"/>
<line x1="1103.36" y1="758.10" x2="1118.96" y2="758.10" stroke="#222222" stroke-width="1.5" stroke-linecap="round"/>
<line x1="1103.36" y1="824.50" x2="1118.96" y2="824.50" stroke="#222222" stroke-width="1.5" stroke-linecap="round"/>
<line x1="1144.82" y1="761.80" x2="1144.82" y2="808.90" stroke="#222222" stroke-width="1.5" stroke-linecap="round"/>
<line x1="1137.02" y1="761.80" x2="1152.62" y2="761.80" stroke="#222222" stroke-width="1.5" stroke-linecap="round"/>
<line x1="1137.02" y1="808.90" x2="1152.62" y2="808.90" stroke="#222222" stroke-width="1.5" stroke-linecap="round"/>
<line x1="1178.48" y1="814.20" x2="1178.48" y2="867.00" stroke="#222222" stroke-width="1.5" stroke-linecap="round"/>
<line x1="1170.68" y1="814.20" x2="1186.28" y2="814.20" stroke="#222222" stroke-width="1.5" stroke-linecap="round"/>
<line x1="1170.68" y1="867.00" x2="1186.28" y2="867.00" stroke="#222222" stroke-width="1.5" stroke-linecap="round"/>
<line x1="1212.13" y1="884.50" x2="1212.13" y2="914.10" stroke="#222222" stroke-width="1.5" stroke-linecap="round"/>
<line x1="1204.33" y1="884.50" x2="1219.93" y2="884.50" stroke="#222222" stroke-width="1.5" stroke-linecap="round"/>
<line x1="1245.79" y1="908.70" x2="1245.79" y2="914.10" stroke="#222222" stroke-width="1.5" stroke-linecap="round"/>
<line x1="1237.99" y1="908.70" x2="1253.59" y2="908.70" stroke="#222222" stroke-width="1.5" stroke-linecap="round"/>
<polyline points="942.87,913.70 976.53,887.00 1010.19,814.60 1043.84,837.50 1077.50,855.20 1111.16,791.40 1144.82,784.60 1178.48,840.00 1212.13,899.60 1245.79,913.80" fill="none" stroke="#000" stroke-width="4.5" stroke-linejoin="round" stroke-linecap="round"/>
</svg></body></html>
